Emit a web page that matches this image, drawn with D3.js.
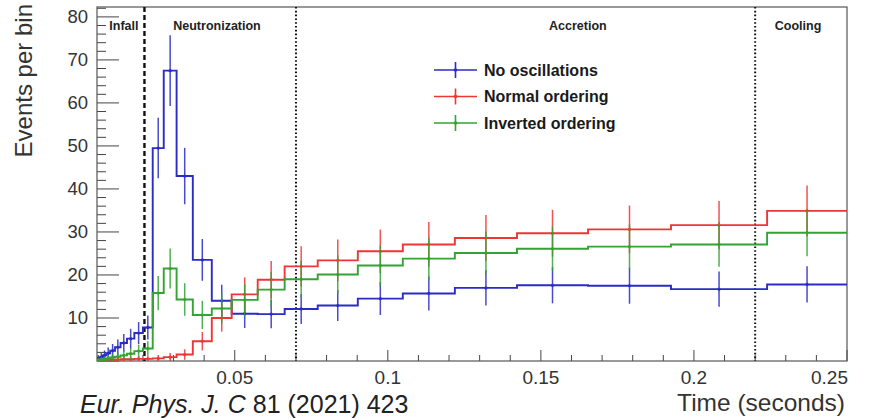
<!DOCTYPE html>
<html>
<head>
<meta charset="utf-8">
<script src="https://cdn.jsdelivr.net/npm/d3@7"></script>
<style>
  body { margin: 0; background: #fff; }
  svg { display: block; font-family: "Liberation Sans", Arial, sans-serif; }
</style>
</head>
<body>
<svg id="chart" width="873" height="418"></svg>
<script>
// bin edges in seconds (variable, log-like binning)
var binEdges = [0.0050, 0.0059, 0.0069, 0.0080, 0.0093, 0.0109, 0.0127, 0.0148, 0.0172, 0.0200,
                0.0232, 0.0268, 0.0310, 0.0363, 0.0425, 0.0490, 0.0575, 0.0663, 0.0771, 0.0902,
                0.1049, 0.1219, 0.1422, 0.1654, 0.1925, 0.2239, 0.25];

var noOsc    = [0.6, 0.9, 1.3, 1.8, 2.4, 3.2, 4.2, 5.2, 6.5, 7.8,
                49.5, 67.5, 43.0, 23.5, 14.0, 11.0, 10.9, 12.1, 12.9, 14.5,
                15.7, 17.0, 17.6, 17.5, 16.7, 17.8];
var normalOrd = [0.2, 0.2, 0.3, 0.3, 0.3, 0.3, 0.4, 0.4, 0.5, 0.5,
                0.6, 0.9, 1.5, 4.6, 10.0, 15.5, 18.9, 22.0, 23.4, 25.5,
                27.1, 28.6, 29.7, 30.6, 31.6, 34.9];
var invertedOrd = [0.2, 0.3, 0.4, 0.6, 0.8, 1.0, 1.3, 1.7, 2.3, 2.9,
                15.8, 21.5, 14.3, 10.7, 12.2, 14.2, 16.6, 19.0, 20.1, 22.2,
                23.8, 25.1, 26.1, 26.6, 27.1, 29.8];

var seriesNames = ["No oscillations", "Normal ordering", "Inverted ordering"];
var seriesColors = ["#2b2bc6", "#f03535", "#33a333"];

var phaseLines = [0.0205, 0.07, 0.22];
var phaseLabels = [["Infall", 0.0138], ["Neutronization", 0.0442], ["Accretion", 0.1621], ["Cooling", 0.2340]];

var xTicks = [0.05, 0.1, 0.15, 0.2, 0.25];
var yTicks = [10, 20, 30, 40, 50, 60, 70, 80];

const svg = d3.select('#chart');
const pLeft = 97, pRight = 847, pTop = 7, pBottom = 361;

const x = d3.scaleLinear().domain([0.005, 0.25]).range([pLeft, pRight]);
const y = d3.scaleLinear().domain([0, 82.3]).range([pBottom, pTop]);

const plot = svg.append('g');
plot.append('clipPath').attr('id', 'clip')
  .append('rect').attr('x', pLeft).attr('y', pTop).attr('width', pRight - pLeft).attr('height', pBottom - pTop);

// y axis ticks drawn inside the frame (ROOT style)
const yMinor = d3.range(0, 82.3, 2);
plot.selectAll('.ytick').data(yMinor).enter().append('line')
  .attr('x1', pLeft).attr('x2', d => pLeft + (d % 10 === 0 ? 22 : 9))
  .attr('y1', d => y(d)).attr('y2', d => y(d))
  .attr('stroke', '#444').attr('stroke-width', 1);

plot.selectAll('.ylab').data(yTicks).enter().append('text')
  .attr('x', 88).attr('y', d => y(d) + 6.5)
  .attr('text-anchor', 'end').attr('font-size', 18.5).attr('fill', '#333')
  .text(d => d);

// x axis ticks
const xMinor = d3.range(0.01, 0.2501, 0.01);
plot.selectAll('.xtick').data(xMinor).enter().append('line')
  .attr('x1', d => x(d)).attr('x2', d => x(d))
  .attr('y1', pBottom).attr('y2', d => pBottom - (Math.abs(d / 0.05 - Math.round(d / 0.05)) < 1e-6 ? 11 : 6))
  .attr('stroke', '#444').attr('stroke-width', 1);

plot.selectAll('.xlab').data(xTicks).enter().append('text')
  .attr('x', d => d === 0.25 ? pRight + 1 : x(d)).attr('y', 384)
  .attr('text-anchor', d => d === 0.25 ? 'end' : 'middle')
  .attr('font-size', 19).attr('fill', '#333')
  .text(d => d);

// frame
plot.append('rect')
  .attr('x', pLeft).attr('y', pTop).attr('width', pRight - pLeft).attr('height', pBottom - pTop)
  .attr('fill', 'none').attr('stroke', '#555').attr('stroke-width', 1.2);

// phase separators
plot.selectAll('.phase').data(phaseLines).enter().append('line')
  .attr('x1', d => x(d)).attr('x2', d => x(d))
  .attr('y1', pTop).attr('y2', pBottom)
  .attr('stroke', '#111')
  .attr('stroke-width', (d, i) => i === 0 ? 2.4 : 2)
  .attr('stroke-dasharray', (d, i) => i === 0 ? '5,3' : '1.6,2.2');

plot.selectAll('.phaselab').data(phaseLabels).enter().append('text')
  .attr('x', d => x(d[1])).attr('y', 30)
  .attr('text-anchor', 'middle').attr('font-size', 12.5).attr('font-weight', 'bold').attr('fill', '#222')
  .text(d => d[0]);

// histograms
const allSeries = [noOsc, normalOrd, invertedOrd];
allSeries.forEach(function (vals, si) {
  const col = seriesColors[si];
  const bins = vals.map((v, i) => ({ x0: binEdges[i], x1: binEdges[i + 1], v: v }));
  const g = plot.append('g').attr('clip-path', 'url(#clip)');

  const pts = [];
  bins.forEach(b => { pts.push([b.x0, b.v]); pts.push([b.x1, b.v]); });
  g.append('path')
    .attr('d', d3.line().x(d => x(d[0])).y(d => y(d[1]))(pts))
    .attr('fill', 'none').attr('stroke', col).attr('stroke-width', 1.9);

  // Poisson error bars at bin centres
  g.selectAll('.err').data(bins).enter().append('line')
    .attr('x1', d => x((d.x0 + d.x1) / 2)).attr('x2', d => x((d.x0 + d.x1) / 2))
    .attr('y1', d => y(Math.max(0, d.v - Math.sqrt(d.v))))
    .attr('y2', d => y(d.v + Math.sqrt(d.v)))
    .attr('stroke', col).attr('stroke-width', 1.5).attr('opacity', 0.85);

  g.selectAll('.dot').data(bins).enter().append('circle')
    .attr('cx', d => x((d.x0 + d.x1) / 2)).attr('cy', d => y(d.v))
    .attr('r', 1.6).attr('fill', col);
});

// legend
const legend = svg.append('g');
seriesNames.forEach(function (name, i) {
  const ly = 70 + i * 26.5;
  legend.append('line').attr('x1', 434).attr('x2', 477).attr('y1', ly).attr('y2', ly)
    .attr('stroke', seriesColors[i]).attr('stroke-width', 1.6);
  legend.append('line').attr('x1', 455.5).attr('x2', 455.5).attr('y1', ly - 8).attr('y2', ly + 8)
    .attr('stroke', seriesColors[i]).attr('stroke-width', 1.6);
  legend.append('circle').attr('cx', 455.5).attr('cy', ly).attr('r', 1.8).attr('fill', seriesColors[i]);
  legend.append('text').attr('x', 484).attr('y', ly + 5.5)
    .attr('font-size', 16).attr('font-weight', 'bold').attr('fill', '#1a1a1a')
    .text(name);
});

// axis titles
svg.append('text')
  .attr('transform', 'translate(32,4) rotate(-90)')
  .attr('text-anchor', 'end').attr('font-size', 24).attr('fill', '#333')
  .text('Events per bin');

svg.append('text')
  .attr('x', 845).attr('y', 411)
  .attr('text-anchor', 'end').attr('font-size', 24.5).attr('fill', '#333')
  .text('Time (seconds)');

// reference caption
const cap = svg.append('text').attr('x', 80).attr('y', 413).attr('font-size', 25).attr('fill', '#222');
cap.append('tspan').attr('font-style', 'italic').text('Eur. Phys. J. C');
cap.append('tspan').text(' 81 (2021) 423');
</script>
</body>
</html>
